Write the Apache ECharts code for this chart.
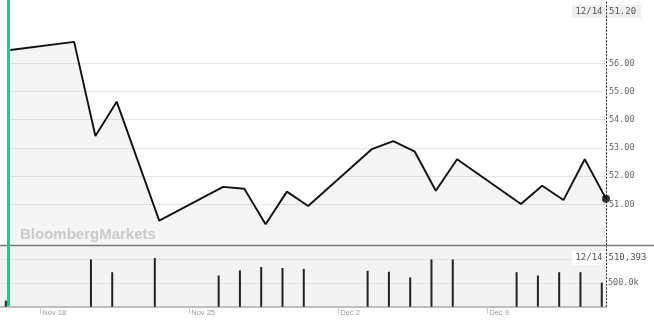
<!DOCTYPE html>
<html>
<head>
<meta charset="utf-8">
<script src="https://cdn.jsdelivr.net/npm/echarts@6/dist/echarts.min.js"></script>
<style>
html,body{margin:0;padding:0;background:#fff;}
#chart{width:654px;height:326px;}
</style>
</head>
<body>
<div id="chart"></div>
<script>
// ---- data ----
const dates = ['2018-11-16','2018-11-19','2018-11-20','2018-11-21','2018-11-23',
  '2018-11-26','2018-11-27','2018-11-28','2018-11-29','2018-11-30',
  '2018-12-03','2018-12-04','2018-12-05','2018-12-06','2018-12-07',
  '2018-12-10','2018-12-11','2018-12-12','2018-12-13','2018-12-14'];
const prices = [56.47, 56.76, 53.42, 54.64, 50.42,
  51.62, 51.55, 50.29, 51.45, 50.94,
  52.96, 53.24, 52.88, 51.48, 52.60,
  51.01, 51.66, 51.15, 52.60, 51.20];
const volumes = [130000, null, 1000000, 730000, 1030000,
  660000, 770000, 840000, 820000, 800000,
  760000, 740000, 620000, 1000000, 1000000,
  730000, 660000, 730000, 730000, 510393];
const xTickDates = ['2018-11-18','2018-11-25','2018-12-02','2018-12-09'];
const xTickLabels = ['Nov 18','Nov 25','Dec 2','Dec 9'];
const priceTicks = [51, 52, 53, 54, 55, 56];
const volumeTicks = [500000, 1000000];
const volumeLabelTicks = [500000];

// ---- helpers ----
const DAY = 86400000;
const t0 = Date.parse(dates[0]);
const dayNum = d => (Date.parse(d) - t0) / DAY;
const lastDay = dayNum(dates[dates.length - 1]);
const labelShift = -0.38;
const mono = 'DejaVu Sans Mono, monospace';

const priceData = dates.map((d, i) => [dayNum(d), prices[i]]);
const volData = dates.map((d, i) => [dayNum(d), volumes[i]]);
const lastPrice = prices[prices.length - 1];
const lastVol = volumes[volumes.length - 1];
const lastDate = new Date(dates[dates.length - 1] + 'T00:00:00Z');
const pad = n => (n < 10 ? '0' : '') + n;
const lastLabel = pad(lastDate.getUTCMonth() + 1) + '/' + pad(lastDate.getUTCDate());
const fmtVol = v => v >= 1e6 ? (v / 1e6).toFixed(1) + 'M' : (v / 1e3).toFixed(1) + 'k';

const chart = echarts.init(document.getElementById('chart'), null, {renderer: 'canvas'});
chart.setOption({
  animation: false,
  backgroundColor: '#ffffff',
  grid: [
    {left: 10, right: 48, top: 0, height: 245, show: false},
    {left: 0, right: 48, top: 245.5, height: 61.2, show: true, backgroundColor: '#f3f3f3', borderWidth: 0}
  ],
  xAxis: [
    {type: 'value', gridIndex: 0, min: -0.014, max: lastDay, show: false},
    {type: 'value', gridIndex: 1, min: -0.273, max: lastDay + 0.2,
      axisLine: {show: true, onZero: false, lineStyle: {color: '#aaaaaa', width: 1.5}},
      splitLine: {show: false},
      axisTick: {show: true, length: 7, lineStyle: {color: '#cccccc', width: 1},
        customValues: xTickDates.map(d => dayNum(d) + labelShift)},
      axisLabel: {show: true, customValues: xTickDates.map(d => dayNum(d) + labelShift),
        formatter: v => { const i = xTickDates.findIndex(d => Math.abs(dayNum(d) + labelShift - v) < 1e-6); return i >= 0 ? xTickLabels[i] : ''; },
        align: 'left', margin: 2, padding: [0, 0, 0, 2], fontSize: 7.5, color: '#9a9a9a',
        fontFamily: 'Liberation Sans, Arial, sans-serif'}
    }
  ],
  yAxis: [
    {type: 'value', gridIndex: 0, position: 'right', min: 49.557, max: 58.245,
      axisLine: {show: true, onZero: false, lineStyle: {color: '#333333', type: [1.5, 2], width: 1}},
      axisTick: {show: false, customValues: priceTicks},
      splitLine: {show: true, lineStyle: {color: '#e6e6e6', width: 1.2}},
      axisLabel: {show: true, customValues: priceTicks, formatter: v => v.toFixed(2),
        margin: 3, fontSize: 8.5, color: '#666666', fontFamily: mono}
    },
    {type: 'value', gridIndex: 1, position: 'right', min: 0, max: 1295000,
      axisLine: {show: true, onZero: false, lineStyle: {color: '#333333', type: [1.5, 2], width: 1}},
      axisTick: {show: false, customValues: volumeTicks},
      splitLine: {show: true, lineStyle: {color: '#e2e2e2', width: 1.2}},
      axisLabel: {show: true, customValues: volumeLabelTicks, formatter: fmtVol,
        margin: 2, fontSize: 8.5, color: '#666666', fontFamily: mono}
    }
  ],
  series: [
    {type: 'line', xAxisIndex: 0, yAxisIndex: 0, data: priceData,
      showSymbol: false, lineStyle: {color: '#111111', width: 1.9},
      areaStyle: {color: 'rgba(0,0,0,0.055)', origin: 'start'}, z: 3},
    {type: 'scatter', xAxisIndex: 0, yAxisIndex: 0, data: [priceData[priceData.length - 1]],
      symbolSize: 8, itemStyle: {color: '#000000'}, z: 4, clip: false},
    {type: 'bar', xAxisIndex: 1, yAxisIndex: 1, data: volData,
      barWidth: 2, itemStyle: {color: '#222222'}, z: 3}
  ],
  graphic: [
    {type: 'line', shape: {x1: 0, y1: 245.5, x2: 654, y2: 245.5}, style: {stroke: '#7a7a7a', lineWidth: 1.5}, z: 10},
    {type: 'rect', shape: {x: 7, y: 0, width: 3, height: 306}, style: {fill: '#1fc98f'}, z: 11},
    {type: 'text', x: 20, y: 234.5, style: {text: 'BloombergMarkets', fill: '#d3d3d3',
      font: 'bold 15px "Liberation Sans", Arial, sans-serif', verticalAlign: 'middle'}, z: 2},
    {type: 'rect', shape: {x: 572, y: 5, width: 33.5, height: 13}, style: {fill: '#efefef'}, z: 10},
    {type: 'rect', shape: {x: 607, y: 5, width: 34, height: 13}, style: {fill: '#efefef'}, z: 10},
    {type: 'text', x: 602.5, y: 11.7, style: {text: lastLabel, fill: '#555555', font: '9px ' + mono,
      align: 'right', verticalAlign: 'middle'}, z: 11},
    {type: 'text', x: 609, y: 11.7, style: {text: lastPrice.toFixed(2), fill: '#555555', font: '9px ' + mono,
      align: 'left', verticalAlign: 'middle'}, z: 11},
    {type: 'rect', shape: {x: 572, y: 251, width: 33.5, height: 14}, style: {fill: '#ffffff'}, z: 10},
    {type: 'rect', shape: {x: 607, y: 251, width: 45, height: 14}, style: {fill: '#ffffff'}, z: 10},
    {type: 'text', x: 602.5, y: 258, style: {text: lastLabel, fill: '#555555', font: '9px ' + mono,
      align: 'right', verticalAlign: 'middle'}, z: 11},
    {type: 'text', x: 608.5, y: 258, style: {text: lastVol.toLocaleString('en-US'), fill: '#555555', font: '9px ' + mono,
      align: 'left', verticalAlign: 'middle'}, z: 11}
  ]
});
</script>
</body>
</html>
